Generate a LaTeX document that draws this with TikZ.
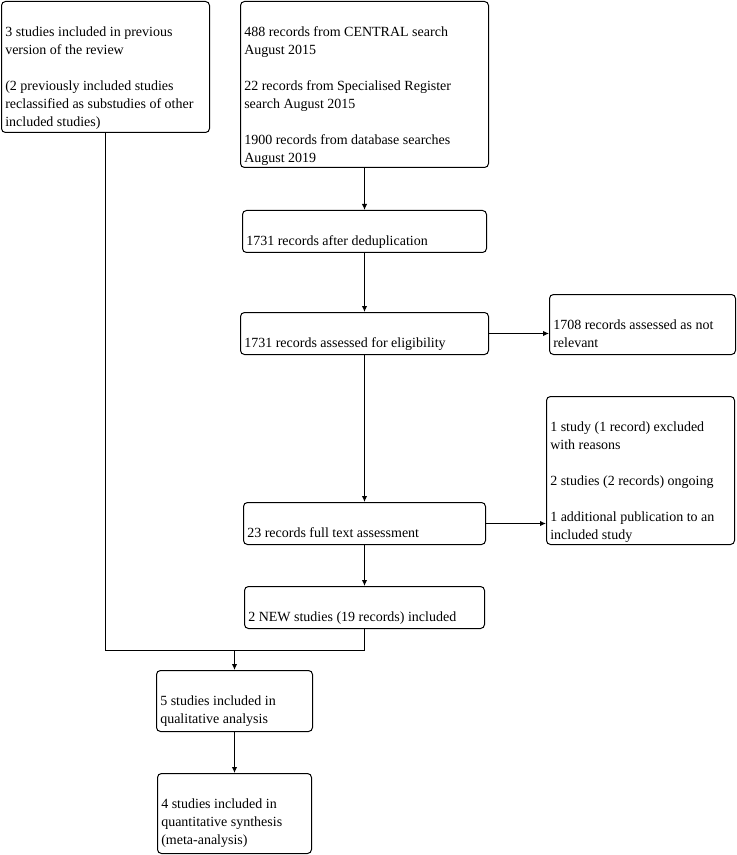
\documentclass[tikz,border=0pt]{standalone}
\usepackage{fontspec}
\setmainfont{Liberation Serif}
\usepackage{tikz}
\usetikzlibrary{arrows.meta,calc}
\tikzset{
  flowline/.style={line width=0.75pt, draw=black},
  flowarrow/.style={-{Latex[length=4.5pt,width=4pt]}, line width=0.75pt, draw=black},
  stepbox/.style={draw=black, line width=0.75pt, rounded corners=3pt, inner sep=0pt},
  boxtext/.style={anchor=north west, inner sep=0pt, align=left,
    font=\fontsize{10.5pt}{13.5pt}\selectfont}
}
\newcommand{\firstline}{\rule{0pt}{10pt}}

\begin{document}
\begin{tikzpicture}[x=0.75pt,y=-0.75pt]
    \useasboundingbox (0,0) rectangle (736,855);

    % boxes
    \node[stepbox, minimum width=156pt, minimum height=98.25pt] (prev) at (105.5,67) {};
    \node[stepbox, minimum width=186pt, minimum height=124.5pt] (search) at (364.5,84.5) {};
    \node[stepbox, minimum width=183pt, minimum height=31.5pt] (dedup) at (364.5,231.5) {};
    \node[stepbox, minimum width=186pt, minimum height=31.5pt] (elig) at (364.5,333.5) {};
    \node[stepbox, minimum width=139.5pt, minimum height=45pt] (notrel) at (642.5,324.5) {};
    \node[stepbox, minimum width=141pt, minimum height=111pt] (excl) at (640.5,470.5) {};
    \node[stepbox, minimum width=181.5pt, minimum height=31.5pt] (fulltext) at (364.5,523.5) {};
    \node[stepbox, minimum width=180pt, minimum height=31.5pt] (new) at (364.5,607.5) {};
    \node[stepbox, minimum width=117pt, minimum height=45.75pt] (qual) at (234.5,701) {};
    \node[stepbox, minimum width=115.5pt, minimum height=60pt] (quant) at (234.5,813.5) {};

    % texts
    \node[boxtext] (prev-t) at ($(prev.north west)+(4,21.5)$)
        {\firstline 3 studies included in previous\\version of the review\\[13.5pt]
         (2 previously included studies\\reclassified as substudies of other\\included studies)};
    \node[boxtext] (search-t) at ($(search.north west)+(4,21.5)$)
        {\firstline 488 records from CENTRAL search\\August 2015\\[13.5pt]
         22 records from Specialised Register\\search August 2015\\[13.5pt]
         1900 records from database searches\\August 2019};
    \node[boxtext] (dedup-t) at ($(dedup.north west)+(4,21.5)$)
        {\firstline 1731 records after deduplication};
    \node[boxtext] (elig-t) at ($(elig.north west)+(4,21.5)$)
        {\firstline 1731 records assessed for eligibility};
    \node[boxtext] (notrel-t) at ($(notrel.north west)+(4,21.5)$)
        {\firstline 1708 records assessed as not\\relevant};
    \node[boxtext] (excl-t) at ($(excl.north west)+(4,21.5)$)
        {\firstline 1 study (1 record) excluded\\with reasons\\[13.5pt]
         2 studies (2 records) ongoing\\[13.5pt]
         1 additional publication to an\\included study};
    \node[boxtext] (fulltext-t) at ($(fulltext.north west)+(4,21.5)$)
        {\firstline 23 records full text assessment};
    \node[boxtext] (new-t) at ($(new.north west)+(4,21.5)$)
        {\firstline 2 NEW studies (19 records) included};
    \node[boxtext] (qual-t) at ($(qual.north west)+(4,21.5)$)
        {\firstline 5 studies included in\\qualitative analysis};
    \node[boxtext] (quant-t) at ($(quant.north west)+(4,21.5)$)
        {\firstline 4 studies included in\\quantitative synthesis\\(meta-analysis)};

    % connectors
    \foreach \a/\b in {search/dedup,dedup/elig,elig/fulltext,fulltext/new,qual/quant}
        \draw[flowarrow] (\a.south) -- (\a.south |- \b.north);
    \draw[flowarrow] (elig.east) -- (elig.east -| notrel.west);
    \draw[flowarrow] (fulltext.east) -- (fulltext.east -| excl.west);

    \coordinate (join) at (234.5,650.5);
    \draw[flowline] (prev.south) |- (join) -| (new.south);
    \draw[flowarrow] (join) -- (qual.north);
\end{tikzpicture}
\end{document}
